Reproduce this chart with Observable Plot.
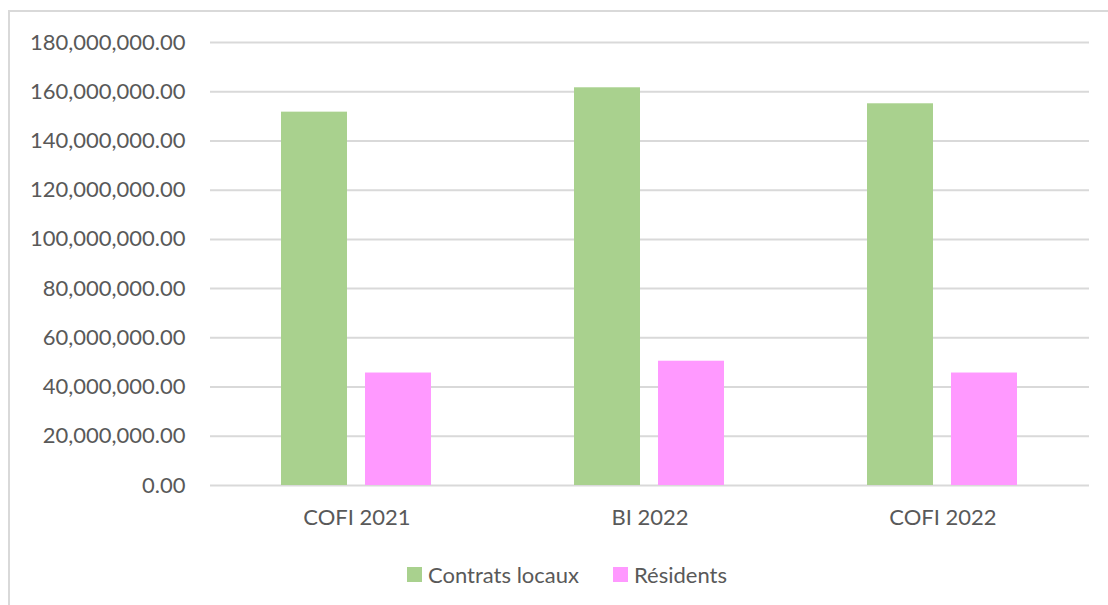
<!DOCTYPE html>
<html><head><meta charset="utf-8">
<script src="https://cdn.jsdelivr.net/npm/d3@7"></script>
<script src="https://cdn.jsdelivr.net/npm/@observablehq/plot@0.6"></script>
<style>
html,body{margin:0;padding:0;background:#fff;}
body{width:1108px;height:605px;position:relative;overflow:hidden;font-family:Lato,"Open Sans",sans-serif;}
#frame{position:absolute;left:8px;top:10px;width:1200px;height:700px;border-left:2px solid #d9d9d9;border-top:2px solid #d9d9d9;box-sizing:border-box;}
#chart{position:absolute;left:0;top:0;}
#legend{position:absolute;left:0;top:561px;width:1108px;height:30px;font-size:22px;color:#595959;white-space:nowrap;}
.item{position:absolute;top:0;display:flex;align-items:center;}
.sw{width:15px;height:15px;margin-right:6px;display:inline-block;}
</style>
</head><body>
<div id="frame"></div>
<div id="chart"></div>
<div id="legend"></div>
<script>
const categories = ["COFI 2021", "BI 2022", "COFI 2022"];
const series = ["Contrats locaux", "Résidents"];
const contratsLocaux = [151.7e6, 161.6e6, 155.1e6];
const residents = [45.7e6, 50.5e6, 45.7e6];
const yTicks = [0, 20e6, 40e6, 60e6, 80e6, 100e6, 120e6, 140e6, 160e6, 180e6];
const colors = ["#a9d18e", "#ff99ff"];

const data = categories.flatMap((c, i) => [
  {cat: c, series: series[0], value: contratsLocaux[i]},
  {cat: c, series: series[1], value: residents[i]}
]);

const chart = Plot.plot({
  width: 1108,
  height: 545,
  marginLeft: 210,
  marginRight: 19,
  marginTop: 42,
  marginBottom: 60,
  style: {fontFamily: "Lato, 'Open Sans', sans-serif", fontSize: "22px", color: "#595959", background: "transparent"},
  fx: {domain: categories, padding: 0, label: null, axis: "bottom", tickSize: 0, tickPadding: 24},
  x: {domain: series, paddingInner: 0.212, paddingOuter: 0.83, axis: null},
  y: {domain: [0, 180e6], ticks: yTicks, tickFormat: d3.format(",.2f"), tickSize: 0, tickPadding: 25, label: null},
  color: {domain: series, range: colors},
  marks: [
    Plot.ruleY(yTicks, {stroke: "#d9d9d9", strokeWidth: 2}),
    Plot.barY(data, {fx: "cat", x: "series", y: "value", fill: "series"})
  ]
});
document.getElementById("chart").appendChild(chart);

const legend = document.getElementById("legend");
const legendLeft = [407, 613];
series.forEach((s, i) => {
  const item = document.createElement("div");
  item.className = "item";
  item.style.left = legendLeft[i] + "px";
  const sw = document.createElement("span");
  sw.className = "sw";
  sw.style.background = colors[i];
  const t = document.createElement("span");
  t.textContent = s;
  item.appendChild(sw);
  item.appendChild(t);
  legend.appendChild(item);
});
</script>
</body></html>
